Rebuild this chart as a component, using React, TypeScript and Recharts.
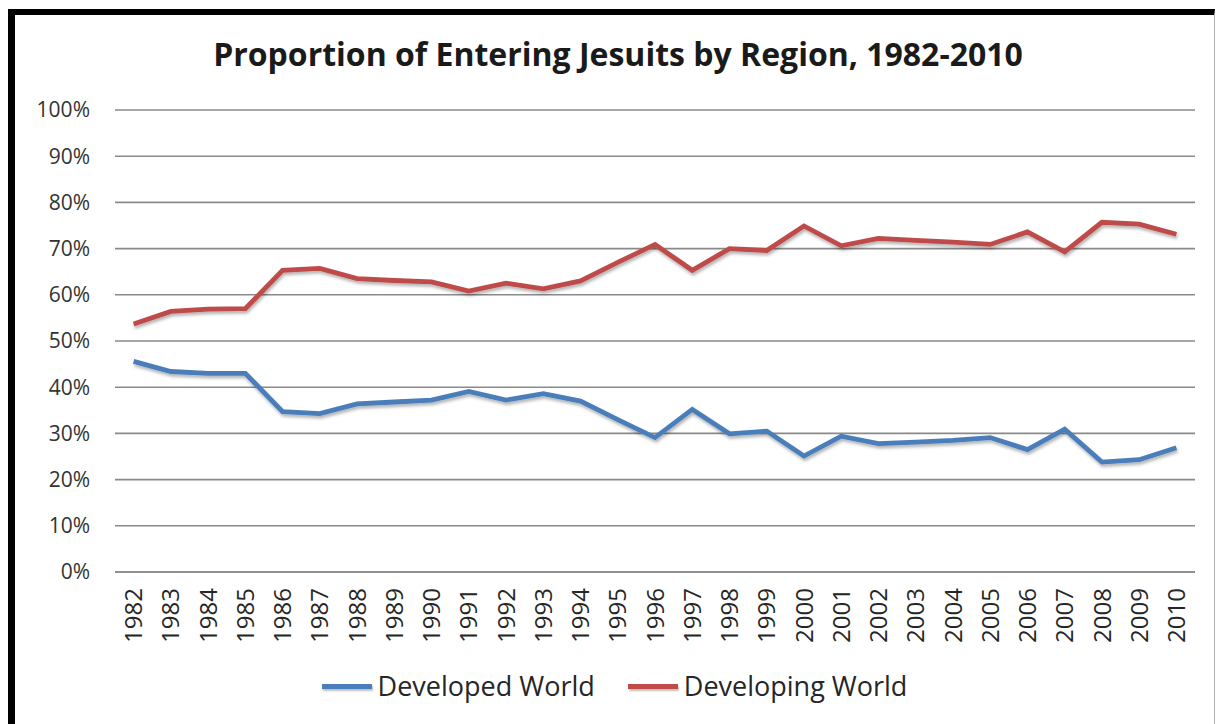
import React from 'react';
import { LineChart, Line, XAxis, YAxis, CartesianGrid, Legend } from 'recharts';

const years = ['1982','1983','1984','1985','1986','1987','1988','1989','1990','1991','1992','1993','1994','1995','1996','1997','1998','1999','2000','2001','2002','2003','2004','2005','2006','2007','2008','2009','2010'];
const developed = [45.6,43.4,43.0,43.0,34.7,34.3,36.4,36.8,37.2,39.1,37.2,38.6,37.0,33.0,29.1,35.2,29.9,30.5,25.1,29.4,27.8,28.1,28.5,29.1,26.5,30.9,23.8,24.3,26.9];
const developing = [53.7,56.4,56.9,57.0,65.3,65.7,63.5,63.1,62.8,60.8,62.5,61.3,63.0,67.0,70.9,65.3,70.0,69.6,74.9,70.6,72.2,71.8,71.4,70.9,73.6,69.3,75.7,75.3,73.1];
const yTicks = [0,10,20,30,40,50,60,70,80,90,100];
const seriesNames = ['Developed World','Developing World'];
const seriesColors = ['#4a7ebb','#be4b48'];
const title = 'Proportion of Entering Jesuits by Region, 1982-2010';

const data = years.map((y, i) => ({ year: y, developed: developed[i], developing: developing[i] }));

const FONT = '"Open Sans", "Noto Sans", sans-serif';

const XTick = (props: any) => {
  const { x, y, payload } = props;
  return (
    <g transform={`translate(${x},${y})`}>
      <text transform="rotate(-90)" textAnchor="end" dy="0.36em" fontFamily={FONT} fontSize={24} fill="#262626">
        {payload.value}
      </text>
    </g>
  );
};

const LegendContent = () => (
  <div style={{ display: 'flex', justifyContent: 'center', alignItems: 'center', fontFamily: FONT, fontSize: 27, lineHeight: '36px', color: '#262626', paddingTop: 6, paddingLeft: 34 }}>
    {seriesNames.map((n, i) => (
      <div key={n} style={{ display: 'flex', alignItems: 'center', marginRight: i === 0 ? 33 : 0 }}>
        <div style={{ width: 50, height: 5, background: seriesColors[i], marginRight: 6, boxShadow: '1px 2px 2px rgba(0,0,0,0.25)' }} />
        <span>{n}</span>
      </div>
    ))}
  </div>
);

export default function App() {
  return (
    <>
      <div style={{ position: 'absolute', left: 8, top: 9, width: 1207, height: 715, boxSizing: 'border-box', borderTop: '6px solid #000', borderLeft: '7px solid #000', borderRight: '1px solid #b0b0b0', background: '#fff' }} />
      <div style={{ position: 'absolute', left: 0, top: 0, width: 1222, height: 724 }}>
        <div style={{ position: 'absolute', left: 7, top: 34, width: 1222, textAlign: 'center', fontFamily: FONT, fontWeight: 700, fontSize: 32, lineHeight: '40px', color: '#1a1a1a', zIndex: 2 }}>
          {title}
        </div>
        <LineChart width={1222} height={724} data={data} margin={{ top: 110, right: 27, bottom: 22, left: 0 }}>
          <defs>
            <filter id="shadow" x="-5%" y="-20%" width="110%" height="140%">
              <feDropShadow dx="1" dy="2.5" stdDeviation="1.6" floodColor="#000" floodOpacity="0.3" />
            </filter>
          </defs>
          <CartesianGrid horizontal vertical={false} stroke="#8a8a8a" strokeWidth={1.6} />
          <XAxis dataKey="year" interval={0} height={90} padding={{ left: 18.6, right: 18.6 }} axisLine={{ stroke: '#8a8a8a', strokeWidth: 1.6 }} tickLine={false} tickSize={0} tickMargin={16} tick={<XTick />} />
          <YAxis width={115} domain={[0, 100]} ticks={yTicks} tickFormatter={(v: number) => `${v}%`} axisLine={false} tickLine={false} tickSize={0} tickMargin={25} tick={{ fontFamily: FONT, fontSize: 21, fill: '#333333' }} interval={0} />
          <Legend height={40} verticalAlign="bottom" content={<LegendContent />} />
          <Line type="linear" dataKey="developed" name={seriesNames[0]} stroke={seriesColors[0]} strokeWidth={4.8} dot={false} isAnimationActive={false} filter="url(#shadow)" />
          <Line type="linear" dataKey="developing" name={seriesNames[1]} stroke={seriesColors[1]} strokeWidth={4.8} dot={false} isAnimationActive={false} filter="url(#shadow)" />
        </LineChart>
      </div>
    </>
  );
}
